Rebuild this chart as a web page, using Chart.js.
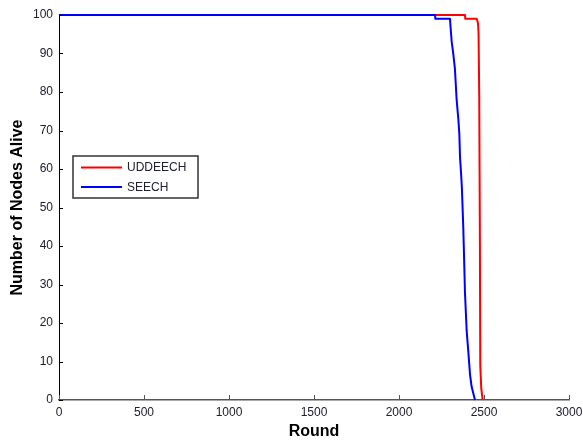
<!DOCTYPE html>
<html>
<head>
<meta charset="utf-8">
<script src="https://cdn.jsdelivr.net/npm/chart.js@4"></script>
<style>
  html, body { margin: 0; padding: 0; background: #fff; }
  canvas { display: block; }
</style>
</head>
<body>
<canvas id="aliveChart" width="583" height="441"></canvas>
<script>
// values
const redRounds = [0, 2388, 2390, 2457, 2464, 2466, 2468, 2472, 2476, 2478, 2484, 2492];
const redAlive  = [100, 100, 99, 99, 98, 97, 95, 79, 40, 9, 3, 0];

const blueRounds = [0, 2212, 2214, 2300, 2303, 2310, 2319, 2329, 2339, 2349, 2355, 2359, 2365, 2370, 2378, 2384, 2388, 2398, 2407, 2418, 2427, 2447];
const blueAlive  = [100, 100, 99, 99, 97, 93, 90, 86, 78, 73, 69, 63, 59, 55, 45, 35, 28, 18, 13, 6.5, 3.5, 0];

const seriesNames = ['UDDEECH', 'SEECH'];
const xTicks = [0, 500, 1000, 1500, 2000, 2500, 3000];
const yTicks = [0, 10, 20, 30, 40, 50, 60, 70, 80, 90, 100];

const fontFamily = '"Liberation Sans", Arial, sans-serif';
const textColor = '#202030';

function toPoints(xs, ys) {
    return xs.map((x, i) => ({x: x, y: ys[i]}));
}

// matlab style inward ticks + legend box in upper left
const matlabBits = {
    id: 'matlabBits',
    afterDraw(chart) {
        const ctx = chart.ctx;
        const area = chart.chartArea;
        const xs = chart.scales.x;
        const ys = chart.scales.y;
        ctx.save();
        ctx.lineWidth = 1;
        ctx.strokeStyle = '#000';
        yTicks.forEach(v => {
            const py = Math.round(ys.getPixelForValue(v)) + 0.5;
            ctx.beginPath();
            ctx.moveTo(area.left, py);
            ctx.lineTo(area.left + 4, py);
            ctx.stroke();
        });
        ctx.strokeStyle = '#555';
        xTicks.forEach(v => {
            const px = Math.round(xs.getPixelForValue(v)) + 0.5;
            ctx.beginPath();
            ctx.moveTo(px, area.bottom);
            ctx.lineTo(px, area.bottom - 5);
            ctx.stroke();
        });

        // legend
        const bx = 73, by = 156, bw = 125, bh = 42;
        ctx.fillStyle = '#fff';
        ctx.fillRect(bx, by, bw, bh);
        ctx.strokeStyle = '#333';
        ctx.lineWidth = 1.5;
        ctx.strokeRect(bx, by, bw, bh);
        ctx.font = '12px ' + fontFamily;
        ctx.textBaseline = 'middle';
        chart.data.datasets.forEach((ds, i) => {
            const ly = by + 11.5 + i * 19.5;
            ctx.strokeStyle = ds.borderColor;
            ctx.lineWidth = 2;
            ctx.beginPath();
            ctx.moveTo(bx + 8, ly);
            ctx.lineTo(bx + 49, ly);
            ctx.stroke();
            ctx.fillStyle = textColor;
            ctx.fillText(ds.label, bx + 54, ly + 0.5);
        });
        ctx.restore();
    }
};

window.addEventListener("load", (event) => {
    const ctx = document.getElementById('aliveChart');

    new Chart(ctx, {
        type: 'line',
        data: {
            datasets: [
                {
                    label: seriesNames[0],
                    data: toPoints(redRounds, redAlive),
                    borderColor: '#ff0000',
                    backgroundColor: '#ff0000',
                    borderWidth: 2,
                    borderJoinStyle: 'round',
                    tension: 0.001,
                    clip: 3,
                    order: 1
                },
                {
                    label: seriesNames[1],
                    data: toPoints(blueRounds, blueAlive),
                    borderColor: '#0000ff',
                    backgroundColor: '#0000ff',
                    borderWidth: 2,
                    borderJoinStyle: 'round',
                    tension: 0.001,
                    clip: 3,
                    order: 0
                }
            ]
        },
        options: {
            responsive: false,
            animation: false,
            elements: {
                point: { radius: 0 }
            },
            layout: {
                padding: { top: 15, right: 0, left: 0, bottom: 0 }
            },
            plugins: {
                legend: { display: false },
                tooltip: { enabled: false }
            },
            scales: {
                x: {
                    type: 'linear',
                    min: 0,
                    max: 3000,
                    afterFit: (scale) => {
                        scale.height = 41;
                        scale.paddingLeft = 0;
                        scale.paddingRight = 14;
                    },
                    afterBuildTicks: (scale) => { scale.ticks = xTicks.map(v => ({value: v})); },
                    grid: { drawOnChartArea: false, drawTicks: false },
                    border: { color: '#555', width: 1.5 },
                    ticks: {
                        padding: 5,
                        color: textColor,
                        font: { family: fontFamily, size: 12 },
                        callback: (v) => String(v)
                    },
                    title: {
                        display: true,
                        text: 'Round',
                        color: '#000',
                        padding: { top: 0, bottom: 0 },
                        font: { family: fontFamily, size: 16, weight: 'bold' }
                    }
                },
                y: {
                    min: 0,
                    max: 100,
                    afterFit: (scale) => { scale.width = 59; },
                    afterBuildTicks: (scale) => { scale.ticks = yTicks.map(v => ({value: v})); },
                    grid: { drawOnChartArea: false, drawTicks: false },
                    border: { color: '#000', width: 1 },
                    ticks: {
                        padding: 6,
                        color: textColor,
                        font: { family: fontFamily, size: 12 },
                        callback: (v) => String(v)
                    },
                    title: {
                        display: true,
                        text: 'Number of Nodes Alive',
                        color: '#000',
                        padding: { top: 8, bottom: 0 },
                        font: { family: fontFamily, size: 16, weight: 'bold' }
                    }
                }
            }
        },
        plugins: [matlabBits]
    });
});
</script>
</body>
</html>
